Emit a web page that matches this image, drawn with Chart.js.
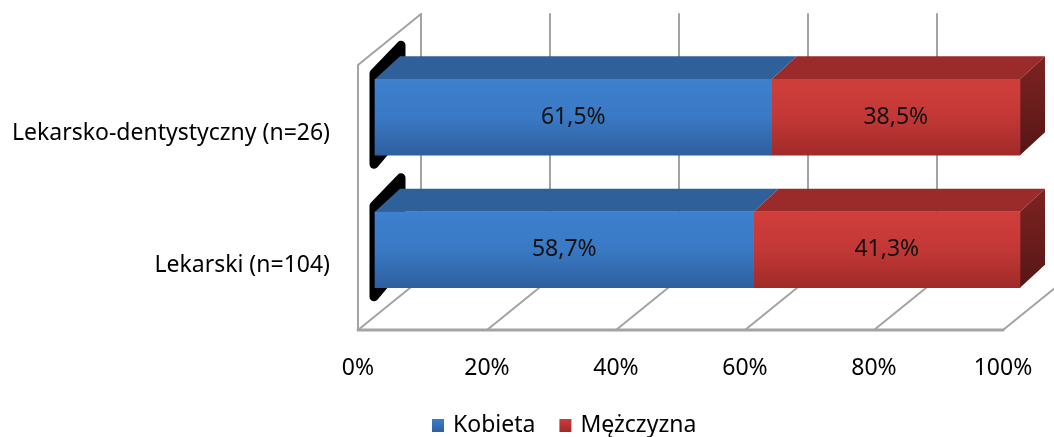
<!DOCTYPE html>
<html>
<head>
<meta charset="utf-8">
<script src="https://cdn.jsdelivr.net/npm/chart.js@4/dist/chart.umd.min.js"></script>
<style>
  html, body { margin: 0; padding: 0; background: #ffffff; }
  #wrap { width: 1054px; height: 437px; }
</style>
</head>
<body>
<div id="wrap"><canvas id="c" width="1054" height="437"></canvas></div>
<script>
// ---- data ----
const categories = ['Lekarsko-dentystyczny (n=26)', 'Lekarski (n=104)'];
const seriesNames = ['Kobieta', 'Mężczyzna'];
const kobieta = [61.5, 58.7];
const mezczyzna = [38.5, 41.3];
const tickValues = [0, 20, 40, 60, 80, 100];
const tickLabels = ['0%', '20%', '40%', '60%', '80%', '100%'];

// ---- style ----
const FONT = '"Noto Sans", Lato, sans-serif';
const FSIZE = 23;
const DEPTH_X = 63, DEPTH_Y = -51;       // full depth of the 3D box
const FRONT_DX = 17, FRONT_DY = -14;     // bar front plane offset
const BAR_DX = 25, BAR_DY = -23;         // bar depth
const BAR_T = 76;
const GRID = '#a3a3a3';

function vgrad(c, y0, y1, stops) {
  const g = c.createLinearGradient(0, y0, 0, y1);
  stops.forEach((s, i) => g.addColorStop(i / (stops.length - 1), s));
  return g;
}
function faceColor(stops) {
  return (ctx) => {
    const chart = ctx.chart;
    if (!chart.chartArea) return stops[0];
    const y = chart.scales.y.getPixelForValue(ctx.dataIndex);
    return vgrad(chart.ctx, y - BAR_T / 2, y + BAR_T / 2, stops);
  };
}
const blueFront = ['#3d80ce', '#3a79c4', '#2d5f9f'];
const redFront = ['#d03e3b', '#c23836', '#a02a28'];
const blueTop = '#2f6099';
const redTop = '#9a2b2a';

function poly(c, pts) {
  c.beginPath();
  c.moveTo(pts[0][0], pts[0][1]);
  for (let i = 1; i < pts.length; i++) c.lineTo(pts[i][0], pts[i][1]);
  c.closePath();
}

const box3d = {
  id: 'box3d',
  beforeDatasetsDraw(chart) {
    const c = chart.ctx, xs = chart.scales.x, a = chart.chartArea;
    c.save();
    c.strokeStyle = GRID;
    c.lineWidth = 2;
    c.lineCap = 'round';
    // back wall gridlines + floor diagonals
    tickValues.forEach(v => {
      const fx = xs.getPixelForValue(v);
      c.beginPath();
      c.moveTo(fx + DEPTH_X, a.top + DEPTH_Y);
      c.lineTo(fx + DEPTH_X, a.bottom + DEPTH_Y);
      c.stroke();
      c.beginPath();
      c.moveTo(fx, a.bottom);
      c.lineTo(fx + DEPTH_X, a.bottom + DEPTH_Y);
      c.stroke();
    });
    // left wall
    const x0 = xs.getPixelForValue(0);
    c.beginPath();
    c.moveTo(x0, a.bottom);
    c.lineTo(x0, a.top);
    c.lineTo(x0 + DEPTH_X, a.top + DEPTH_Y);
    c.stroke();
    // floor front edge
    c.lineWidth = 3;
    c.beginPath();
    c.moveTo(x0, a.bottom);
    c.lineTo(xs.getPixelForValue(100), a.bottom);
    c.stroke();

    // bar 3D faces
    const m0 = chart.getDatasetMeta(0), m1 = chart.getDatasetMeta(1);
    m0.data.forEach((el, i) => {
      const b = el.getProps(['x', 'base', 'y'], true);
      const r = m1.data[i].getProps(['x', 'base', 'y'], true);
      const yT = b.y - BAR_T / 2 + FRONT_DY, yB = b.y + BAR_T / 2 + FRONT_DY;
      const L = b.base + FRONT_DX, M = b.x + FRONT_DX, R = r.x + FRONT_DX;
      // black left face
      c.fillStyle = '#000';
      c.strokeStyle = '#000';
      c.lineJoin = 'round';
      c.lineWidth = 9;
      poly(c, [[L - 1, yT - 6], [L + BAR_DX + 1, yT + BAR_DY - 11], [L + BAR_DX + 1, yB + BAR_DY], [L - 1, yB + 9]]);
      c.fill(); c.stroke();
      // top faces
      c.fillStyle = blueTop;
      poly(c, [[L, yT], [M, yT], [M + BAR_DX, yT + BAR_DY], [L + BAR_DX, yT + BAR_DY]]);
      c.fill();
      c.fillStyle = redTop;
      poly(c, [[M, yT], [R, yT], [R + BAR_DX, yT + BAR_DY], [M + BAR_DX, yT + BAR_DY]]);
      c.fill();
      // right face
      c.fillStyle = vgrad(c, yT + BAR_DY, yB, ['#7c2321', '#6a1d1c', '#551615']);
      poly(c, [[R, yT], [R + BAR_DX, yT + BAR_DY], [R + BAR_DX, yB + BAR_DY], [R, yB]]);
      c.fill();
    });
    c.restore();
    c.save();
    c.translate(FRONT_DX, FRONT_DY);
  },
  afterDatasetsDraw(chart) {
    const c = chart.ctx;
    c.restore();
    const xs = chart.scales.x, ys = chart.scales.y, a = chart.chartArea;
    c.save();
    c.font = FSIZE + 'px ' + FONT;
    c.textBaseline = 'middle';
    // data labels
    c.fillStyle = '#111';
    c.textAlign = 'center';
    chart.data.datasets.forEach((ds, di) => {
      chart.getDatasetMeta(di).data.forEach((el, i) => {
        const p = el.getProps(['x', 'base', 'y'], true);
        const v = ds.data[i];
        c.fillText(v.toFixed(1).replace('.', ',') + '%', (p.x + p.base) / 2 + FRONT_DX, p.y + FRONT_DY);
      });
    });
    // category labels
    c.textAlign = 'right';
    c.fillStyle = '#000';
    categories.forEach((lab, i) => {
      c.fillText(lab, xs.getPixelForValue(0) - 28, ys.getPixelForValue(i) + 2);
    });
    // tick labels
    c.textAlign = 'center';
    tickValues.forEach((v, i) => {
      c.fillText(tickLabels[i], xs.getPixelForValue(v), a.bottom + 38);
    });
    // legend
    const ly = 425;
    c.textAlign = 'left';
    const items = [[seriesNames[0], ['#3d80ce', '#2d5f9f']], [seriesNames[1], ['#d03e3b', '#a02a28']]];
    const gap = 24, box = 12, pad = 9;
    let x = 432;
    items.forEach(([t, col]) => {
      c.fillStyle = vgrad(c, ly - 7, ly + 7, col);
      c.fillRect(x, ly - 6, box, 13);
      c.fillStyle = '#000';
      c.fillText(t, x + box + pad, ly);
      x += box + pad + c.measureText(t).width + gap;
    });
    c.restore();
  }
};

new Chart(document.getElementById('c'), {
  type: 'bar',
  data: {
    labels: categories,
    datasets: [
      { label: seriesNames[0], data: kobieta, backgroundColor: faceColor(blueFront), barThickness: BAR_T, clip: false },
      { label: seriesNames[1], data: mezczyzna, backgroundColor: faceColor(redFront), barThickness: BAR_T, clip: false }
    ]
  },
  options: {
    indexAxis: 'y',
    responsive: false,
    animation: false,
    layout: { padding: { left: 358, right: 51, top: 65, bottom: 107 } },
    plugins: { legend: { display: false }, tooltip: { enabled: false } },
    scales: {
      x: { type: 'linear', min: 0, max: 100, stacked: true, display: false },
      y: { type: 'category', stacked: true, display: false }
    }
  },
  plugins: [box3d]
});
</script>
</body>
</html>
